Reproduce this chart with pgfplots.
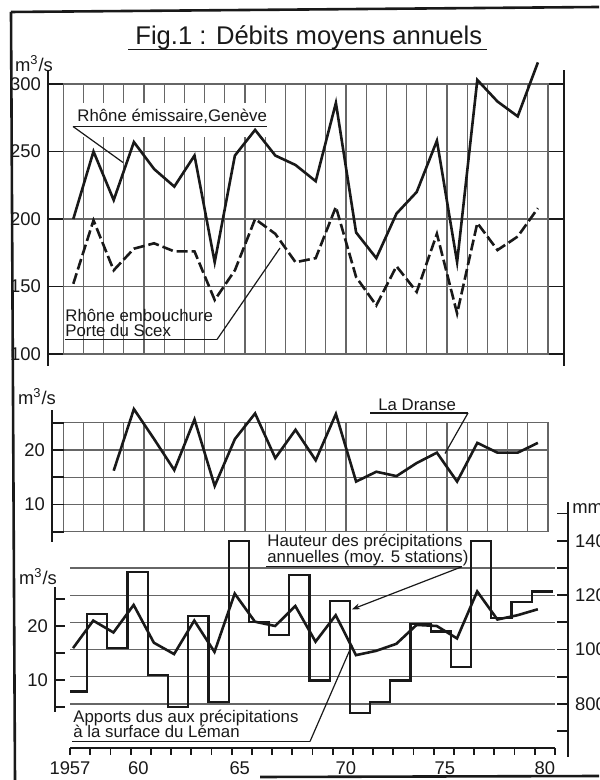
\documentclass[border=0pt]{standalone}
\usepackage{pgfplots}
\pgfplotsset{compat=1.18}
\usepackage{fontspec}
\setmainfont{Liberation Sans}
\usetikzlibrary{arrows.meta}
\definecolor{ink}{gray}{0.1}
\definecolor{gridc}{gray}{0.4}
\newcommand{\tfont}{\fontsize{9.2}{11}\selectfont}
\newcommand{\lfont}{\fontsize{8.4}{10}\selectfont}

\pgfplotsset{
  base/.style={scale only axis, anchor=south west, clip=false,
    /pgf/number format/assume math mode=true, /pgf/number format/1000 sep={},
    tick label style={font=\tfont, text=ink}},
  gridbox/.style={base, xticklabels={}, yticklabels={}, major tick length=0pt,
    grid=major, grid style={gridc, line width=0.6pt},
    axis line style={gridc, line width=0.6pt}},
  frame/.style={base, xmin=0, xmax=1, axis x line=none, tick align=inside,
    axis line style={ink, line width=1.1pt, -},
    major tick style={ink, line width=0.9pt}},
}

\begin{document}
\begin{tikzpicture}
\path[use as bounding box] (0pt,0pt) rectangle (299.5pt,390pt);

% ---------------- top panel: Rhone ----------------
\begin{axis}[gridbox, at={(31.6pt,213pt)}, width=242.4pt, height=135pt,
  xmin=1956.5, xmax=1980.5, ymin=100, ymax=300,
  xtick={1957.5,1958.5,...,1979.5}, ytick={150,200,250}]
\fill[white] (axis cs:1956.53,285.9) rectangle (axis cs:1966.6,260.7);
\addplot[ink, line width=1.3pt] table {
x y
1957 200
1958 250
1959 214
1960 257
1961 237
1962 224
1963 247
1964 168
1965 247
1966 266
1967 247
1968 240
1969 228
1970 286
1971 190
1972 171
1973 204
1974 220
1975 258
1976 168
1977 303
1978 287
1979 276
1980 316
};
\addplot[ink, line width=1.3pt, dash pattern=on 5.5pt off 2pt] table {
x y
1957 152
1958 199
1959 162
1960 178
1961 182
1962 176
1963 176
1964 140
1965 162
1966 200
1967 189
1968 168
1969 171
1970 209
1971 157
1972 136
1973 165
1974 146
1975 189
1976 130
1977 197
1978 177
1979 187
1980 208
};
\end{axis}

\begin{axis}[frame, at={(24pt,207pt)}, width=258pt, height=148pt,
  ymin=91.1, ymax=310.4, axis y line=box, ytick={100,150,...,300},
  yticklabel pos=left, major tick length=7.7pt]
\end{axis}

% ---------------- middle panel: La Dranse ----------------
\begin{axis}[gridbox, at={(31.6pt,124.15pt)}, width=242.4pt, height=54.5pt,
  xmin=1956.5, xmax=1980.5, ymin=5, ymax=25,
  xtick={1957.5,1958.5,...,1979.5}, ytick={10,15,20}]
\addplot[ink, line width=1.3pt] table {
x y
1959 16.2
1960 27.5
1961 22.0
1962 16.3
1963 25.6
1964 13.4
1965 22.0
1966 26.7
1967 18.5
1968 23.7
1969 18.1
1970 26.6
1971 14.2
1972 16.0
1973 15.2
1974 17.6
1975 19.5
1976 14.2
1977 21.3
1978 19.5
1979 19.5
1980 21.3
};
\end{axis}

\begin{axis}[frame, at={(26pt,119pt)}, width=10pt, height=66pt,
  ymin=3.11, ymax=27.33, axis y line*=left, ytick={5,10,...,25},
  yticklabels={,10,,20,}, major tick length=6pt]
\end{axis}

% ---------------- bottom panel ----------------
% precipitation height (mm), step line
\begin{axis}[base, at={(35pt,16pt)}, width=242.5pt, height=123pt,
  xmin=1956.85, xmax=1980.85, ymin=638.3, ymax=1542.2,
  axis line style={draw=none}, xtick=\empty, ytick={800,900,...,1300},
  yticklabels={}, major tick length=0pt, ymajorgrids,
  grid style={gridc, line width=0.6pt}]
\addplot[const plot, ink, line width=1.1pt] table {
x y
1956.85 846
1957.7 1130
1958.7 1007
1959.7 1286
1960.7 907
1961.7 790
1962.7 1124
1963.7 808
1964.7 1400
1965.7 1100
1966.7 1053
1967.7 1274
1968.7 886
1969.7 1178
1970.7 768
1971.7 808
1972.7 886
1973.7 1094
1974.7 1066
1975.7 937
1976.7 1400
1977.7 1115
1978.7 1176
1979.7 1213
1980.75 1213
};
\end{axis}

% inflow from precipitation (m3/s) + year axis
\begin{axis}[base, at={(35pt,16pt)}, width=242.5pt, height=123pt,
  xmin=1956.85, xmax=1980.85, ymin=-2.59, ymax=42.96,
  axis x line*=bottom, axis y line=none,
  axis line style={ink, line width=1.1pt},
  xtick={1956.85,1957.85,1958.85,1959.85,1960.85,1961.85,1962.85,1963.85,1964.85,1965.85,1966.85,1967.85,1968.85,1969.85,1970.85,1971.85,1972.85,1973.85,1974.85,1975.85,1976.85,1977.85,1978.85,1979.85,1980.85},
  xticklabels={}, tick align=outside, major tick length=3.5pt,
  major tick style={ink, line width=0.9pt},
  extra x ticks={1956.85,1960.23,1965.25,1970.5,1975.4,1980.35},
  extra x tick labels={1957,60,65,70,75,80},
  extra x tick style={major tick style={draw=none}}]
\addplot[ink, line width=1.3pt] table {
x y
1957 15.9
1958 21.0
1959 18.8
1960 23.9
1961 16.9
1962 14.8
1963 21.0
1964 15.2
1965 26.0
1966 20.8
1967 20.0
1968 23.7
1969 17.1
1970 22.0
1971 14.6
1972 15.4
1973 16.7
1974 20.2
1975 20.0
1976 17.7
1977 26.4
1978 21.2
1979 22.0
1980 23.1
};
\end{axis}

\begin{axis}[frame, at={(27.5pt,34pt)}, width=10pt, height=62.5pt,
  ymin=4.07, ymax=27.22, axis y line*=left, ytick={5,10,...,25},
  yticklabels={,10,,20,}, major tick length=5pt]
\end{axis}

\begin{axis}[frame, at={(274pt,11.5pt)}, width=10pt, height=127.5pt,
  ymin=605.3, ymax=1542.2, axis y line*=right, ytick={700,800,...,1500},
  yticklabels={,800,,1000,,1200,,1400,}, major tick length=5.5pt]
\end{axis}

% ---------------- annotations (pixel coordinates of the reference) ----------------
\begin{scope}[x=0.5pt, y=-0.5pt, shift={(0pt,390pt)}]
  % frame
  \draw[ink, line width=1.3pt] (11,12) -- (15,780);
  \draw[ink, line width=1.3pt] (11,12) -- (599,7);
  \draw[ink, line width=1.3pt] (260,777) -- (599,776);
  % title
  \node[anchor=base west, inner sep=0, text=ink, font=\fontsize{12.8}{15}\selectfont]
    at (135,45) {Fig.1 : Débits moyens annuels};
  \draw[ink, line width=0.9pt] (128,49.5) -- (487,49.5);
  % unit labels
  \node[anchor=base, inner sep=0, text=ink, font=\tfont] at (34,72) {m\textsuperscript{3}/s};
  \node[anchor=base, inner sep=0, text=ink, font=\tfont] at (37,405) {m\textsuperscript{3}/s};
  \node[anchor=base, inner sep=0, text=ink, font=\tfont] at (38,585) {m\textsuperscript{3}/s};
  \node[anchor=west, inner sep=0, text=ink, font=\tfont] at (572,509) {mm};
  % Rhone Geneve
  \node[anchor=base west, inner sep=0, text=ink, font=\lfont] at (77,122) {Rhône émissaire,Genève};
  \draw[ink, line width=0.7pt] (73,126.5) -- (267,126.5);
  \draw[ink, line width=0.6pt] (73,126.5) -- (123,162.5);
  % Rhone Scex
  \node[anchor=base west, inner sep=0, text=ink, font=\lfont] at (65,322) {Rhône embouchure};
  \node[anchor=base west, inner sep=0, text=ink, font=\lfont] at (65,336.5) {Porte du Scex};
  \draw[ink, line width=0.7pt] (65,339.5) -- (217,339.5);
  \draw[ink, line width=0.6pt] (217,339.5) -- (280,248);
  % La Dranse
  \node[anchor=base west, inner sep=0, text=ink, font=\lfont] at (378,410.5) {La Dranse};
  \draw[ink, line width=0.7pt] (370,413) -- (468,413);
  \draw[ink, line width=0.6pt] (468,413) -- (445,453.5);
  % Hauteur des precipitations
  \node[anchor=base west, inner sep=0, text=ink, font=\lfont] at (267,546.5) {Hauteur des précipitations};
  \node[anchor=base west, inner sep=0, text=ink, font=\lfont] at (267,562.5) {annuelles (moy. 5 stations)};
  \draw[ink, line width=0.7pt] (266,566.7) -- (462,566.7);
  \draw[ink, line width=0.6pt, -{Stealth[length=4pt,width=3pt]}] (462,566.7) -- (352,609.3);
  % Apports
  \node[anchor=base west, inner sep=0, text=ink, font=\lfont] at (73,723) {Apports dus aux précipitations};
  \node[anchor=base west, inner sep=0, text=ink, font=\lfont] at (73,738) {à la surface du Léman};
  \draw[ink, line width=0.7pt] (72,741.5) -- (310,741.5);
  \draw[ink, line width=0.6pt] (310,741.5) -- (352,645);
\end{scope}
\end{tikzpicture}
\end{document}
